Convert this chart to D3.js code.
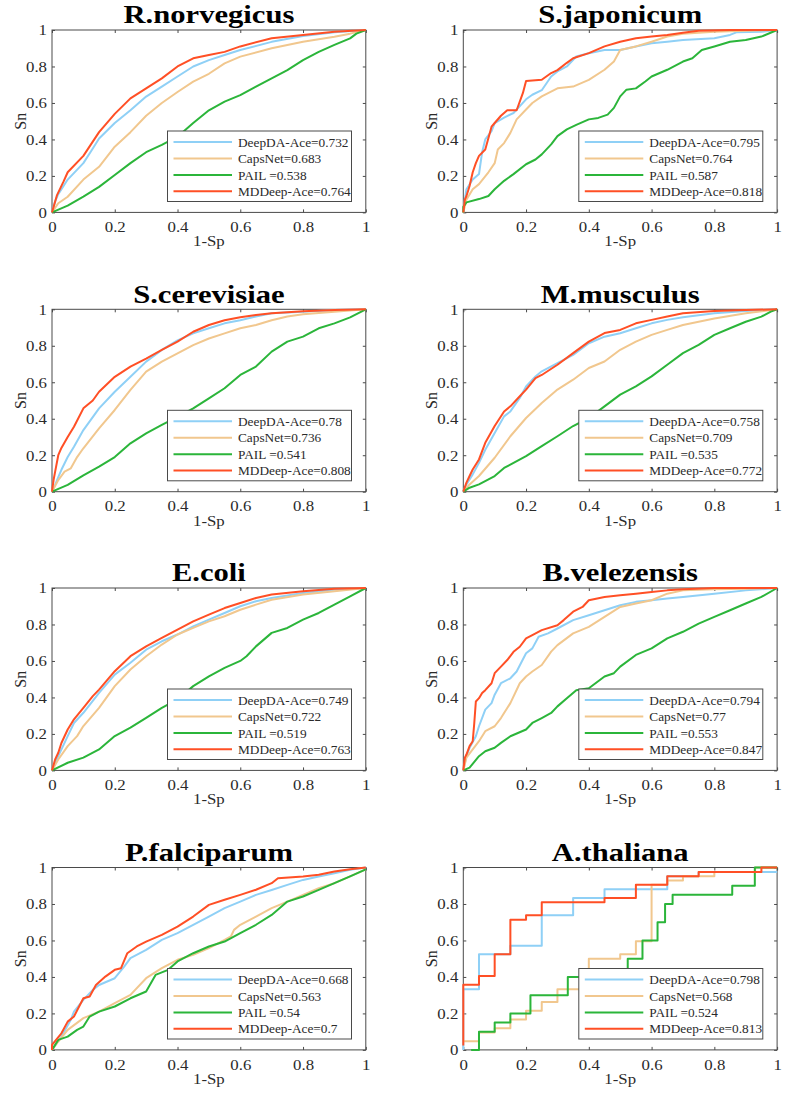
<!DOCTYPE html>
<html><head><meta charset="utf-8">
<script src="https://cdn.jsdelivr.net/npm/d3@7"></script>
<style>body{margin:0;background:#fff;} svg{display:block;}</style>
</head><body><svg id="c" width="792" height="1103"></svg>
<script>
const species = ["R.norvegicus","S.japonicum","S.cerevisiae","M.musculus","E.coli","B.velezensis","P.falciparum","A.thaliana"];
const methods = ["DeepDA-Ace","CapsNet","PAIL ","MDDeep-Ace"];
const colors = ["#8fd0f6","#f1c78e","#2bb53a","#ff4f25"];
const aucValues = [
  [0.732,0.683,0.538,0.764],
  [0.795,0.764,0.587,0.818],
  [0.78,0.736,0.541,0.808],
  [0.758,0.709,0.535,0.772],
  [0.749,0.722,0.519,0.763],
  [0.794,0.77,0.553,0.847],
  [0.668,0.563,0.54,0.7],
  [0.798,0.568,0.524,0.813]
];
const tickValues = [0,0.2,0.4,0.6,0.8,1];
const tickLabels = ["0","0.2","0.4","0.6","0.8","1"];
const xLabel = "1-Sp", yLabel = "Sn";

// ROC curves, [1-Sp, Sn]
const RN_DeepDA = [[0,0],[0.01,0.06],[0.02,0.10],[0.05,0.18],[0.1,0.27],[0.13,0.35],[0.15,0.405],[0.2,0.49],[0.25,0.56],[0.3,0.635],[0.35,0.69],[0.4,0.745],[0.45,0.8],[0.5,0.835],[0.55,0.863],[0.6,0.89],[0.7,0.935],[0.8,0.967],[0.9,0.987],[1,1]];
const RN_Caps = [[0,0],[0.02,0.05],[0.05,0.086],[0.1,0.18],[0.15,0.25],[0.2,0.36],[0.25,0.44],[0.3,0.53],[0.35,0.6],[0.4,0.66],[0.45,0.717],[0.5,0.76],[0.55,0.817],[0.6,0.854],[0.7,0.9],[0.8,0.936],[0.9,0.963],[0.95,0.98],[1,1]];
const RN_PAIL = [[0,0],[0.05,0.037],[0.1,0.086],[0.15,0.14],[0.2,0.205],[0.25,0.27],[0.3,0.33],[0.35,0.37],[0.4,0.415],[0.45,0.49],[0.5,0.56],[0.55,0.607],[0.6,0.643],[0.65,0.69],[0.7,0.735],[0.75,0.78],[0.8,0.835],[0.85,0.88],[0.9,0.918],[0.95,0.954],[0.97,0.98],[1,1]];
const RN_MDD = [[0,0],[0.016,0.095],[0.037,0.17],[0.05,0.22],[0.1,0.31],[0.15,0.44],[0.2,0.54],[0.25,0.625],[0.3,0.68],[0.35,0.735],[0.4,0.8],[0.45,0.845],[0.5,0.863],[0.55,0.88],[0.6,0.91],[0.7,0.955],[0.8,0.973],[0.9,0.99],[1,1]];

const SJ_DeepDA = [[0,0],[0.005,0.07],[0.01,0.127],[0.03,0.18],[0.05,0.21],[0.06,0.33],[0.07,0.4],[0.09,0.445],[0.1,0.49],[0.13,0.52],[0.16,0.545],[0.2,0.62],[0.22,0.645],[0.25,0.67],[0.28,0.745],[0.3,0.773],[0.33,0.8],[0.36,0.855],[0.4,0.873],[0.45,0.89],[0.5,0.89],[0.55,0.91],[0.6,0.927],[0.65,0.936],[0.7,0.945],[0.8,0.955],[0.85,0.973],[0.87,0.987],[0.95,0.99],[1,1]];
const SJ_Caps = [[0,0],[0.01,0.07],[0.03,0.127],[0.05,0.155],[0.08,0.22],[0.1,0.27],[0.11,0.345],[0.13,0.38],[0.15,0.436],[0.17,0.51],[0.2,0.564],[0.22,0.6],[0.25,0.636],[0.3,0.68],[0.35,0.69],[0.4,0.727],[0.45,0.782],[0.48,0.827],[0.5,0.89],[0.55,0.91],[0.6,0.936],[0.65,0.964],[0.7,0.98],[0.8,0.99],[0.9,0.996],[1,1]];
const SJ_PAIL = [[0,0],[0,0.03],[0.01,0.055],[0.05,0.073],[0.08,0.09],[0.1,0.127],[0.13,0.173],[0.16,0.21],[0.2,0.264],[0.23,0.29],[0.25,0.318],[0.28,0.373],[0.3,0.418],[0.33,0.455],[0.36,0.48],[0.4,0.51],[0.43,0.518],[0.46,0.536],[0.48,0.573],[0.5,0.636],[0.52,0.673],[0.55,0.68],[0.58,0.718],[0.6,0.745],[0.65,0.782],[0.7,0.827],[0.73,0.845],[0.76,0.89],[0.8,0.91],[0.85,0.936],[0.9,0.945],[0.95,0.964],[1,1]];
const SJ_MDD = [[0,0],[0.005,0.07],[0.01,0.09],[0.02,0.145],[0.03,0.22],[0.04,0.27],[0.05,0.31],[0.07,0.345],[0.09,0.47],[0.1,0.49],[0.12,0.53],[0.14,0.56],[0.17,0.56],[0.19,0.655],[0.2,0.72],[0.25,0.727],[0.28,0.764],[0.3,0.78],[0.33,0.82],[0.35,0.845],[0.4,0.873],[0.45,0.91],[0.5,0.936],[0.55,0.955],[0.6,0.964],[0.65,0.973],[0.7,0.985],[0.75,0.996],[0.85,1],[1,1]];

const SC_DeepDA = [[0,0],[0.01,0.037],[0.02,0.08],[0.03,0.12],[0.05,0.19],[0.07,0.247],[0.1,0.338],[0.15,0.457],[0.2,0.548],[0.25,0.63],[0.3,0.713],[0.35,0.777],[0.4,0.83],[0.45,0.868],[0.5,0.896],[0.55,0.923],[0.6,0.94],[0.65,0.96],[0.7,0.978],[0.8,0.987],[0.9,0.996],[1,1]];
const SC_Caps = [[0,0],[0.02,0.064],[0.04,0.11],[0.06,0.128],[0.08,0.19],[0.1,0.238],[0.15,0.347],[0.2,0.448],[0.25,0.558],[0.3,0.658],[0.35,0.713],[0.4,0.759],[0.45,0.804],[0.5,0.84],[0.55,0.868],[0.6,0.896],[0.65,0.914],[0.7,0.94],[0.75,0.96],[0.8,0.973],[0.9,0.987],[1,1]];
const SC_PAIL = [[0,0],[0.05,0.037],[0.1,0.09],[0.15,0.137],[0.2,0.19],[0.25,0.265],[0.3,0.32],[0.35,0.366],[0.4,0.41],[0.45,0.457],[0.5,0.512],[0.55,0.567],[0.6,0.64],[0.65,0.686],[0.7,0.768],[0.75,0.823],[0.8,0.85],[0.85,0.896],[0.9,0.923],[0.95,0.956],[1,1]];
const SC_MDD = [[0,0],[0.005,0.064],[0.01,0.11],[0.02,0.2],[0.03,0.24],[0.05,0.3],[0.07,0.356],[0.1,0.457],[0.13,0.5],[0.15,0.548],[0.2,0.63],[0.25,0.686],[0.3,0.73],[0.35,0.777],[0.4,0.823],[0.45,0.877],[0.5,0.914],[0.55,0.94],[0.6,0.956],[0.65,0.969],[0.7,0.978],[0.8,0.989],[0.9,0.996],[1,1]];

const MM_DeepDA = [[0,0],[0.01,0.04],[0.03,0.095],[0.05,0.158],[0.07,0.23],[0.1,0.322],[0.13,0.413],[0.15,0.44],[0.18,0.514],[0.2,0.577],[0.23,0.632],[0.25,0.66],[0.3,0.705],[0.35,0.75],[0.4,0.814],[0.45,0.85],[0.5,0.869],[0.55,0.896],[0.6,0.923],[0.65,0.942],[0.7,0.956],[0.8,0.978],[0.9,0.991],[1,1]];
const MM_Caps = [[0,0],[0.02,0.04],[0.05,0.086],[0.1,0.186],[0.15,0.304],[0.2,0.404],[0.25,0.486],[0.3,0.56],[0.35,0.614],[0.4,0.678],[0.45,0.714],[0.5,0.778],[0.55,0.823],[0.6,0.86],[0.65,0.887],[0.7,0.914],[0.8,0.95],[0.9,0.978],[1,1]];
const MM_PAIL = [[0,0],[0.02,0.022],[0.05,0.04],[0.1,0.086],[0.13,0.13],[0.2,0.195],[0.25,0.25],[0.3,0.304],[0.35,0.36],[0.4,0.404],[0.45,0.468],[0.5,0.532],[0.55,0.577],[0.6,0.632],[0.65,0.696],[0.7,0.76],[0.75,0.805],[0.8,0.86],[0.85,0.896],[0.9,0.932],[0.95,0.96],[0.98,0.987],[1,1]];
const MM_MDD = [[0,0],[0.01,0.05],[0.02,0.086],[0.03,0.122],[0.05,0.177],[0.07,0.268],[0.1,0.36],[0.13,0.44],[0.15,0.468],[0.18,0.523],[0.2,0.56],[0.23,0.623],[0.25,0.64],[0.3,0.696],[0.35,0.76],[0.4,0.823],[0.45,0.87],[0.5,0.887],[0.55,0.923],[0.6,0.942],[0.65,0.96],[0.7,0.978],[0.8,0.991],[0.9,0.996],[1,1]];

const EC_DeepDA = [[0,0],[0.02,0.078],[0.05,0.188],[0.07,0.26],[0.1,0.316],[0.15,0.425],[0.2,0.525],[0.25,0.59],[0.3,0.662],[0.35,0.708],[0.4,0.745],[0.45,0.79],[0.5,0.827],[0.55,0.863],[0.6,0.9],[0.65,0.927],[0.7,0.945],[0.8,0.973],[0.9,0.99],[1,1]];
const EC_Caps = [[0,0],[0.02,0.06],[0.05,0.133],[0.08,0.188],[0.1,0.243],[0.15,0.343],[0.2,0.462],[0.25,0.553],[0.3,0.626],[0.35,0.69],[0.4,0.745],[0.45,0.781],[0.5,0.817],[0.55,0.845],[0.6,0.881],[0.65,0.909],[0.7,0.936],[0.8,0.964],[0.9,0.982],[1,1]];
const EC_PAIL = [[0,0],[0.05,0.042],[0.1,0.07],[0.15,0.115],[0.2,0.188],[0.25,0.234],[0.3,0.288],[0.35,0.343],[0.4,0.389],[0.45,0.462],[0.5,0.516],[0.55,0.562],[0.6,0.6],[0.62,0.626],[0.65,0.68],[0.7,0.754],[0.75,0.781],[0.8,0.827],[0.85,0.863],[0.9,0.909],[0.95,0.954],[1,1]];
const EC_MDD = [[0,0],[0.01,0.06],[0.02,0.097],[0.03,0.15],[0.05,0.224],[0.07,0.28],[0.1,0.343],[0.13,0.407],[0.15,0.443],[0.2,0.544],[0.25,0.626],[0.3,0.68],[0.35,0.726],[0.4,0.772],[0.45,0.817],[0.5,0.854],[0.55,0.89],[0.6,0.918],[0.65,0.945],[0.7,0.964],[0.8,0.982],[0.9,0.996],[1,1]];

const BV_DeepDA = [[0,0],[0.01,0.078],[0.02,0.124],[0.04,0.187],[0.05,0.242],[0.07,0.333],[0.09,0.369],[0.1,0.415],[0.12,0.478],[0.15,0.505],[0.17,0.542],[0.2,0.642],[0.22,0.669],[0.24,0.733],[0.27,0.751],[0.3,0.778],[0.35,0.824],[0.4,0.851],[0.45,0.878],[0.5,0.905],[0.55,0.924],[0.6,0.933],[0.65,0.942],[0.7,0.951],[0.8,0.969],[0.9,0.987],[1,1]];
const BV_Caps = [[0,0],[0.01,0.07],[0.03,0.115],[0.05,0.16],[0.07,0.215],[0.1,0.242],[0.12,0.287],[0.15,0.369],[0.18,0.478],[0.2,0.515],[0.22,0.542],[0.25,0.578],[0.28,0.651],[0.3,0.687],[0.35,0.751],[0.4,0.787],[0.45,0.842],[0.5,0.896],[0.55,0.915],[0.6,0.933],[0.65,0.969],[0.7,0.987],[0.8,0.993],[0.9,0.996],[1,1]];
const BV_PAIL = [[0,0],[0.02,0.015],[0.05,0.078],[0.07,0.105],[0.1,0.124],[0.12,0.151],[0.15,0.187],[0.2,0.224],[0.22,0.26],[0.25,0.287],[0.28,0.315],[0.3,0.351],[0.33,0.396],[0.36,0.44],[0.4,0.45],[0.45,0.515],[0.48,0.533],[0.5,0.569],[0.55,0.633],[0.6,0.669],[0.65,0.724],[0.7,0.76],[0.75,0.805],[0.8,0.842],[0.85,0.878],[0.9,0.915],[0.95,0.951],[1,1]];
const BV_MDD = [[0,0],[0.005,0.07],[0.01,0.087],[0.02,0.133],[0.03,0.16],[0.035,0.26],[0.04,0.378],[0.05,0.396],[0.06,0.424],[0.07,0.44],[0.09,0.478],[0.1,0.533],[0.12,0.569],[0.14,0.605],[0.16,0.65],[0.18,0.678],[0.2,0.724],[0.22,0.742],[0.25,0.769],[0.3,0.796],[0.32,0.824],[0.35,0.87],[0.38,0.896],[0.4,0.933],[0.45,0.951],[0.5,0.96],[0.55,0.969],[0.6,0.978],[0.65,0.987],[0.7,0.993],[0.8,1],[1,1]];

const PF_DeepDA = [[0,0],[0.03,0.073],[0.06,0.165],[0.07,0.21],[0.1,0.274],[0.13,0.329],[0.15,0.356],[0.2,0.393],[0.23,0.457],[0.25,0.503],[0.3,0.548],[0.35,0.603],[0.4,0.64],[0.45,0.686],[0.5,0.731],[0.55,0.777],[0.6,0.813],[0.65,0.85],[0.7,0.877],[0.75,0.905],[0.8,0.932],[0.85,0.951],[0.9,0.969],[0.95,0.987],[1,1]];
const PF_Caps = [[0,0],[0.02,0.046],[0.05,0.11],[0.1,0.174],[0.15,0.21],[0.2,0.256],[0.25,0.302],[0.3,0.393],[0.35,0.448],[0.4,0.494],[0.45,0.521],[0.5,0.558],[0.55,0.603],[0.57,0.622],[0.58,0.658],[0.6,0.686],[0.65,0.731],[0.7,0.777],[0.75,0.813],[0.8,0.85],[0.85,0.887],[0.9,0.914],[0.95,0.951],[1,0.99]];
const PF_PAIL = [[0,0],[0.02,0.055],[0.05,0.073],[0.08,0.11],[0.1,0.128],[0.12,0.183],[0.15,0.21],[0.2,0.238],[0.25,0.283],[0.3,0.32],[0.33,0.411],[0.37,0.439],[0.4,0.485],[0.45,0.53],[0.5,0.567],[0.55,0.594],[0.6,0.64],[0.65,0.686],[0.7,0.74],[0.75,0.813],[0.8,0.841],[0.85,0.877],[0.9,0.914],[0.95,0.951],[1,0.99]];
const PF_MDD = [[0,0],[0,0.027],[0.03,0.091],[0.05,0.155],[0.07,0.183],[0.1,0.283],[0.12,0.293],[0.14,0.356],[0.17,0.402],[0.2,0.439],[0.22,0.448],[0.24,0.53],[0.27,0.567],[0.3,0.594],[0.35,0.631],[0.4,0.676],[0.45,0.731],[0.5,0.795],[0.55,0.823],[0.6,0.85],[0.65,0.878],[0.7,0.914],[0.72,0.941],[0.8,0.951],[0.85,0.96],[0.9,0.978],[0.95,0.99],[1,1]];

const AT_DeepDA = [[0,0.0],[0,0.333],[0.05,0.333],[0.05,0.524],[0.15,0.524],[0.15,0.571],[0.25,0.571],[0.25,0.738],[0.35,0.738],[0.35,0.833],[0.45,0.833],[0.45,0.881],[0.65,0.881],[0.65,0.952],[0.75,0.952],[0.75,0.976],[1,0.976]];
const AT_Caps = [[0,0.048],[0.05,0.048],[0.05,0.095],[0.1,0.095],[0.1,0.119],[0.15,0.119],[0.15,0.167],[0.2,0.167],[0.2,0.214],[0.25,0.214],[0.25,0.262],[0.3,0.262],[0.3,0.333],[0.4,0.333],[0.4,0.5],[0.5,0.5],[0.5,0.524],[0.55,0.524],[0.55,0.595],[0.6,0.595],[0.6,0.905],[0.65,0.905],[0.65,0.929],[0.7,0.929],[0.7,0.952],[0.8,0.952],[0.8,0.976],[0.93,0.976],[0.93,1],[1,1]];
const AT_PAIL = [[0.025,0],[0.05,0],[0.05,0.1],[0.1,0.1],[0.1,0.15],[0.15,0.15],[0.15,0.2],[0.214,0.2],[0.214,0.3],[0.333,0.3],[0.333,0.4],[0.524,0.4],[0.524,0.5],[0.571,0.5],[0.571,0.6],[0.619,0.6],[0.619,0.7],[0.643,0.7],[0.643,0.8],[0.667,0.8],[0.667,0.85],[0.857,0.85],[0.857,0.9],[0.929,0.9],[0.929,1],[1,1]];
const AT_MDD = [[0,0.024],[0,0.357],[0.05,0.357],[0.05,0.405],[0.1,0.405],[0.1,0.524],[0.15,0.524],[0.15,0.714],[0.2,0.714],[0.2,0.738],[0.25,0.738],[0.25,0.81],[0.45,0.81],[0.45,0.833],[0.55,0.833],[0.55,0.905],[0.65,0.905],[0.65,0.952],[0.75,0.952],[0.75,0.976],[0.95,0.976],[0.95,1],[1,1]];

const curves = [
  [RN_DeepDA, RN_Caps, RN_PAIL, RN_MDD],
  [SJ_DeepDA, SJ_Caps, SJ_PAIL, SJ_MDD],
  [SC_DeepDA, SC_Caps, SC_PAIL, SC_MDD],
  [MM_DeepDA, MM_Caps, MM_PAIL, MM_MDD],
  [EC_DeepDA, EC_Caps, EC_PAIL, EC_MDD],
  [BV_DeepDA, BV_Caps, BV_PAIL, BV_MDD],
  [PF_DeepDA, PF_Caps, PF_PAIL, PF_MDD],
  [AT_DeepDA, AT_Caps, AT_PAIL, AT_MDD]
];

const svg = d3.select("#c");
const serif = "'Liberation Serif','Times New Roman',Times,serif";
const colLeft = [52, 463.3], plotW = 313.8;
const rowTop = [30, 309.3, 588, 867.5], plotH = 182.4;
const axisColor = "#4a4a4a", textColor = "#2a2a2a";
const tickScale = 1.12;

species.forEach((name, i) => {
  const left = colLeft[i % 2], top = rowTop[Math.floor(i / 2)];
  const right = left + plotW, bottom = top + plotH;
  const x = d3.scaleLinear().domain([0, 1]).range([left, right]);
  const y = d3.scaleLinear().domain([0, 1]).range([bottom, top]);
  const g = svg.append("g");

  // frame
  g.append("rect").attr("x", left).attr("y", top).attr("width", plotW).attr("height", plotH)
    .attr("fill", "none").attr("stroke", axisColor).attr("stroke-width", 1);

  const fmt = (d) => tickLabels[tickValues.indexOf(d)];
  const ax = g.append("g").attr("transform", `translate(0,${bottom})`)
    .call(d3.axisBottom(x).tickValues(tickValues).tickFormat(fmt).tickSizeInner(-3).tickSizeOuter(0).tickPadding(9));
  const ay = g.append("g").attr("transform", `translate(${left},0)`)
    .call(d3.axisLeft(y).tickValues(tickValues).tickFormat(fmt).tickSizeInner(-3).tickSizeOuter(0).tickPadding(5));
  const at = g.append("g").attr("transform", `translate(0,${top})`)
    .call(d3.axisTop(x).tickValues(tickValues).tickFormat("").tickSizeInner(-3).tickSizeOuter(0));
  const ar = g.append("g").attr("transform", `translate(${right},0)`)
    .call(d3.axisRight(y).tickValues(tickValues).tickFormat("").tickSizeInner(-3).tickSizeOuter(0));
  [ax, ay, at, ar].forEach(a => {
    a.select(".domain").remove();
    a.selectAll("line").attr("stroke", axisColor);
    a.attr("font-family", serif).attr("font-size", 15);
    a.selectAll("text").attr("fill", textColor);
  });
  ax.selectAll("text").attr("transform", `scale(${tickScale},1)`);
  ay.selectAll("text").attr("x", -5 / tickScale).attr("transform", `scale(${tickScale},1)`);

  // curves
  const line = d3.line().x(d => x(d[0])).y(d => y(d[1]));
  curves[i].forEach((pts, k) => {
    g.append("path").datum(pts).attr("d", line).attr("fill", "none")
      .attr("stroke", colors[k]).attr("stroke-width", 2).attr("stroke-linejoin", "round");
  });

  // title
  g.append("text").attr("transform", `translate(${(left + right) / 2},${top - 6.8}) scale(1.2,1)`)
    .attr("text-anchor", "middle").attr("font-family", serif).attr("font-weight", "bold")
    .attr("font-size", 25.5).attr("fill", "#000").text(name);
  // axis labels
  g.append("text").attr("transform", `translate(${(left + right) / 2},${bottom + 34}) scale(1.12,1)`)
    .attr("text-anchor", "middle").attr("font-family", serif).attr("font-size", 15)
    .attr("fill", textColor).text(xLabel);
  g.append("text").attr("transform", `translate(${left - 26},${(top + bottom) / 2}) rotate(-90)`)
    .attr("text-anchor", "middle").attr("font-family", serif).attr("font-size", 16)
    .attr("fill", textColor).text(yLabel);

  // legend
  const bx = left + 115.5, by = top + 101, bw = 184, bh = 70.5;
  const lg = g.append("g");
  lg.append("rect").attr("x", bx).attr("y", by).attr("width", bw).attr("height", bh)
    .attr("fill", "#fff").attr("stroke", axisColor).attr("stroke-width", 1);
  const rowOff = [11, 27.5, 44, 60.3];
  methods.forEach((m, k) => {
    const yy = by + rowOff[k];
    lg.append("line").attr("x1", bx + 6).attr("x2", bx + 64.5).attr("y1", yy).attr("y2", yy)
      .attr("stroke", colors[k]).attr("stroke-width", 2);
    lg.append("text").attr("x", bx + 70.5).attr("y", yy).attr("dy", "0.35em")
      .attr("font-family", serif).attr("font-size", 13.3).attr("fill", textColor)
      .text(m + "=" + aucValues[i][k]);
  });
});
</script>
</body></html>
